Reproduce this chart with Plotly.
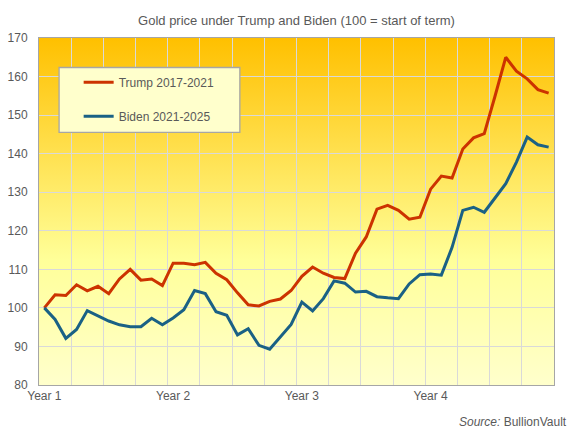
import base64
import plotly.graph_objects as go

# monthly index, 100 = first month of the term
months = list(range(48))
year_ticks = [0, 12, 24, 36]
year_labels = ["Year 1", "Year 2", "Year 3", "Year 4"]

trump = [100, 103.4, 103.2, 106.0, 104.4, 105.6, 103.7, 107.5, 110.0, 107.2, 107.5, 105.8,
         111.6, 111.6, 111.2, 111.8, 109.0, 107.3, 103.9, 100.8, 100.5, 101.7, 102.3, 104.5,
         108.2, 110.6, 109.0, 107.9, 107.6, 114.2, 118.4, 125.6, 126.6, 125.3, 123.0, 123.5,
         130.8, 134.2, 133.7, 141.2, 144.1, 145.2, 154.9, 165.0, 161.4, 159.4, 156.6, 155.7]
biden = [100, 97.0, 92.1, 94.4, 99.3, 98.0, 96.6, 95.6, 95.1, 95.1, 97.3, 95.6,
         97.4, 99.5, 104.5, 103.7, 99.0, 98.1, 93.0, 94.6, 90.3, 89.3, 92.4, 95.7,
         101.5, 99.2, 102.4, 107.0, 106.4, 104.1, 104.3, 102.9, 102.6, 102.4, 106.2, 108.6,
         108.8, 108.5, 115.7, 125.3, 126.1, 124.8, 128.5, 132.2, 137.8, 144.3, 142.3, 141.7]

grey = "#595959"
grid = "#D9D9D9"
border = "#A6A6A6"

# quarterly gridlines sit between the monthly categories
quarter_lines = [m - 0.5 for m in months[3::3]]

# gold gradient behind the plot area
svg = ("<svg xmlns='http://www.w3.org/2000/svg' width='10' height='100' preserveAspectRatio='none'>"
       "<defs><linearGradient id='g' x1='0' y1='0' x2='0' y2='1'>"
       "<stop offset='0' stop-color='#FFC000'/>"
       "<stop offset='0.64' stop-color='#FFFF99'/>"
       "<stop offset='1' stop-color='#FFFFCC'/>"
       "</linearGradient></defs>"
       "<rect width='10' height='100' fill='url(#g)'/></svg>")
bg_src = "data:image/svg+xml;base64," + base64.b64encode(svg.encode()).decode()

fig = go.Figure()
fig.add_trace(go.Scatter(x=months, y=trump, mode="lines", name="Trump 2017-2021",
                         line=dict(color="#CC3300", width=3), legendgroup="t"))
fig.add_trace(go.Scatter(x=months, y=biden, mode="lines", name="Biden 2021-2025",
                         line=dict(color="#1A6185", width=3), legendgroup="b"))

fig.update_layout(
    width=574, height=432,
    margin=dict(l=39, r=20, t=38, b=47),
    paper_bgcolor="white",
    plot_bgcolor="rgba(0,0,0,0)",
    font=dict(family="Liberation Sans, Arial, sans-serif", size=12, color=grey),
    title=dict(text="Gold price under Trump and Biden (100 = start of term)",
               x=0.5, xref="paper", xanchor="center", y=0.952, yanchor="middle",
               font=dict(size=13, color=grey)),
    images=[dict(source=bg_src, xref="paper", yref="paper", x=0, y=1, sizex=1, sizey=1,
                 xanchor="left", yanchor="top", sizing="stretch", layer="below")],
    showlegend=True,
    legend=dict(x=0.077, y=0.914, xanchor="left", yanchor="top",
                bgcolor="rgba(0,0,0,0)", borderwidth=0, tracegroupgap=15,
                itemwidth=30, font=dict(size=12, color=grey)),
    shapes=[dict(type="rect", xref="paper", yref="paper", x0=0.039, x1=0.390, y0=0.728, y1=0.915,
                 fillcolor="#FFFFCC", line=dict(color=border, width=1.3), layer="above")],
    annotations=[dict(text="<i>Source:</i> BullionVault", xref="paper", yref="paper",
                      x=1.03, y=-0.107, xanchor="right", yanchor="middle", showarrow=False,
                      font=dict(size=12, color=grey))],
)

fig.update_xaxes(range=[-0.5, 47.5], tickmode="array", tickvals=year_ticks, ticktext=year_labels,
                 showgrid=False, ticks="", showline=True, linecolor=border, linewidth=1, mirror=True,
                 minor=dict(tickmode="array", tickvals=quarter_lines, showgrid=True,
                            gridcolor=grid, gridwidth=1, ticks=""),
                 zeroline=False, fixedrange=True, automargin=False)
fig.update_yaxes(range=[80, 170], dtick=10, showgrid=True, gridcolor=grid, gridwidth=1,
                 ticks="", ticklabelstandoff=8, showline=True, linecolor=border, linewidth=1,
                 mirror=True, zeroline=False, fixedrange=True, automargin=False)

# drop the page's default body margin so the chart sits at the window corner
fig.write_html("out.html", config={"displayModeBar": False},
               post_script="document.body.style.margin = '0';")
